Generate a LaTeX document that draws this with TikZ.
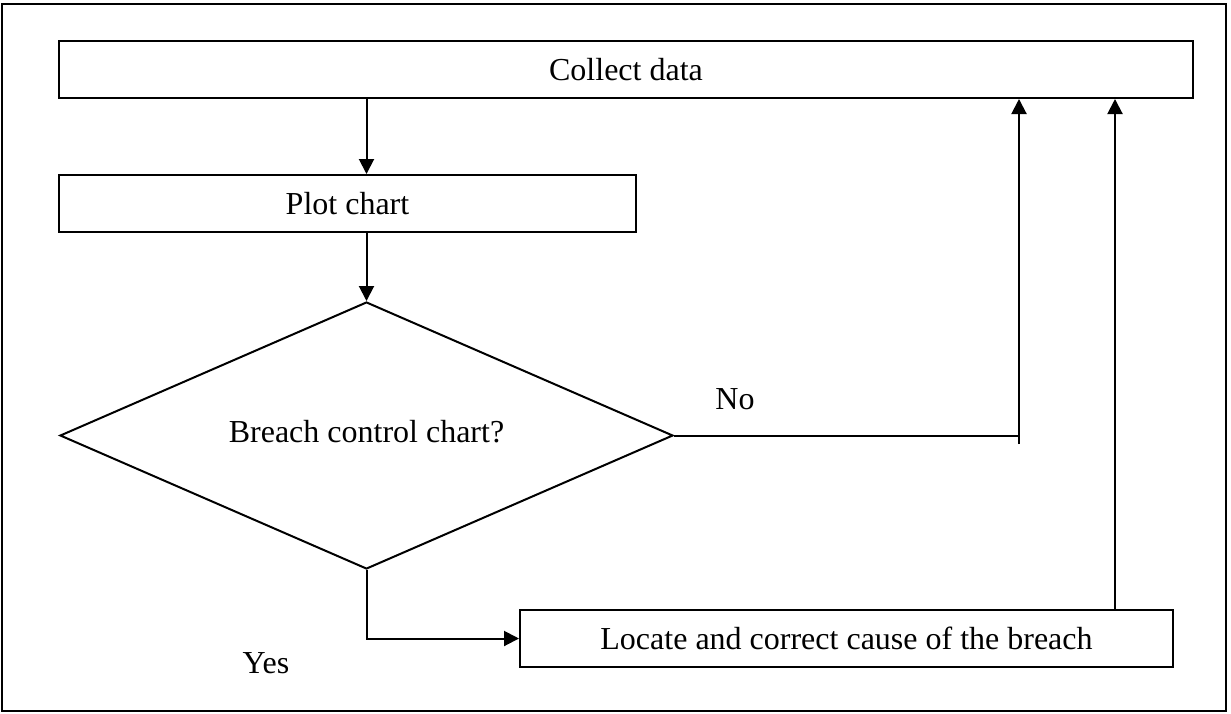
\documentclass[tikz,border=0pt]{standalone}
\usepackage{fontspec}
\setmainfont{Liberation Serif}
\usetikzlibrary{shapes.geometric,arrows.meta,calc}
\begin{document}
\begin{tikzpicture}[x=0.5pt,y=-0.5pt,
  line width=1pt,
  every node/.style={font=\fontsize{16}{19}\selectfont},
  box/.style={draw,rectangle,inner sep=0pt,minimum height=28.5pt},
  decision/.style={draw,diamond,inner sep=0pt,minimum width=306.5pt,minimum height=133.5pt},
  arr/.style={-{Triangle[length=7.5pt,width=7.5pt]}},
  lbl/.style={inner sep=0pt}]
\useasboundingbox (0,0) rectangle (1231,713);
\draw[line width=1pt] (1.5,3.5) rectangle (1225.5,711);
\node[box,minimum width=567pt] (collect) at (626,69.5) {\raisebox{-3pt}{Collect data}};
\node[box,minimum width=288.5pt] (plot) at (347.5,203.5) {\raisebox{-1.5pt}{Plot chart}};
\node[decision] (dia) at (366.5,435.5) {};
\node[lbl] (diatext) at (366.5,432) {Breach control chart?};
\node[box,minimum width=326.5pt] (loc) at (846.5,638.5) {Locate and correct cause of the breach};
\node[lbl] (no) at (735,399) {No};
\node[lbl] (yes) at (266,663) {Yes};
\coordinate (nox) at (1019,444);
\coordinate (upx) at (1115,610);
\draw[arr] (collect.south -| dia.north) -- (plot.north -| dia.north);
\draw[arr] (plot.south -| dia.north) -- (dia.north);
\draw (dia.east) -- (dia.east -| nox);
\draw[arr] (nox) -- (nox |- collect.south);
\draw[arr] (dia.south) -- (dia.south |- loc.west) -- (loc.west);
\draw[arr] (upx |- loc.north) -- (upx |- collect.south);
\end{tikzpicture}
\end{document}
